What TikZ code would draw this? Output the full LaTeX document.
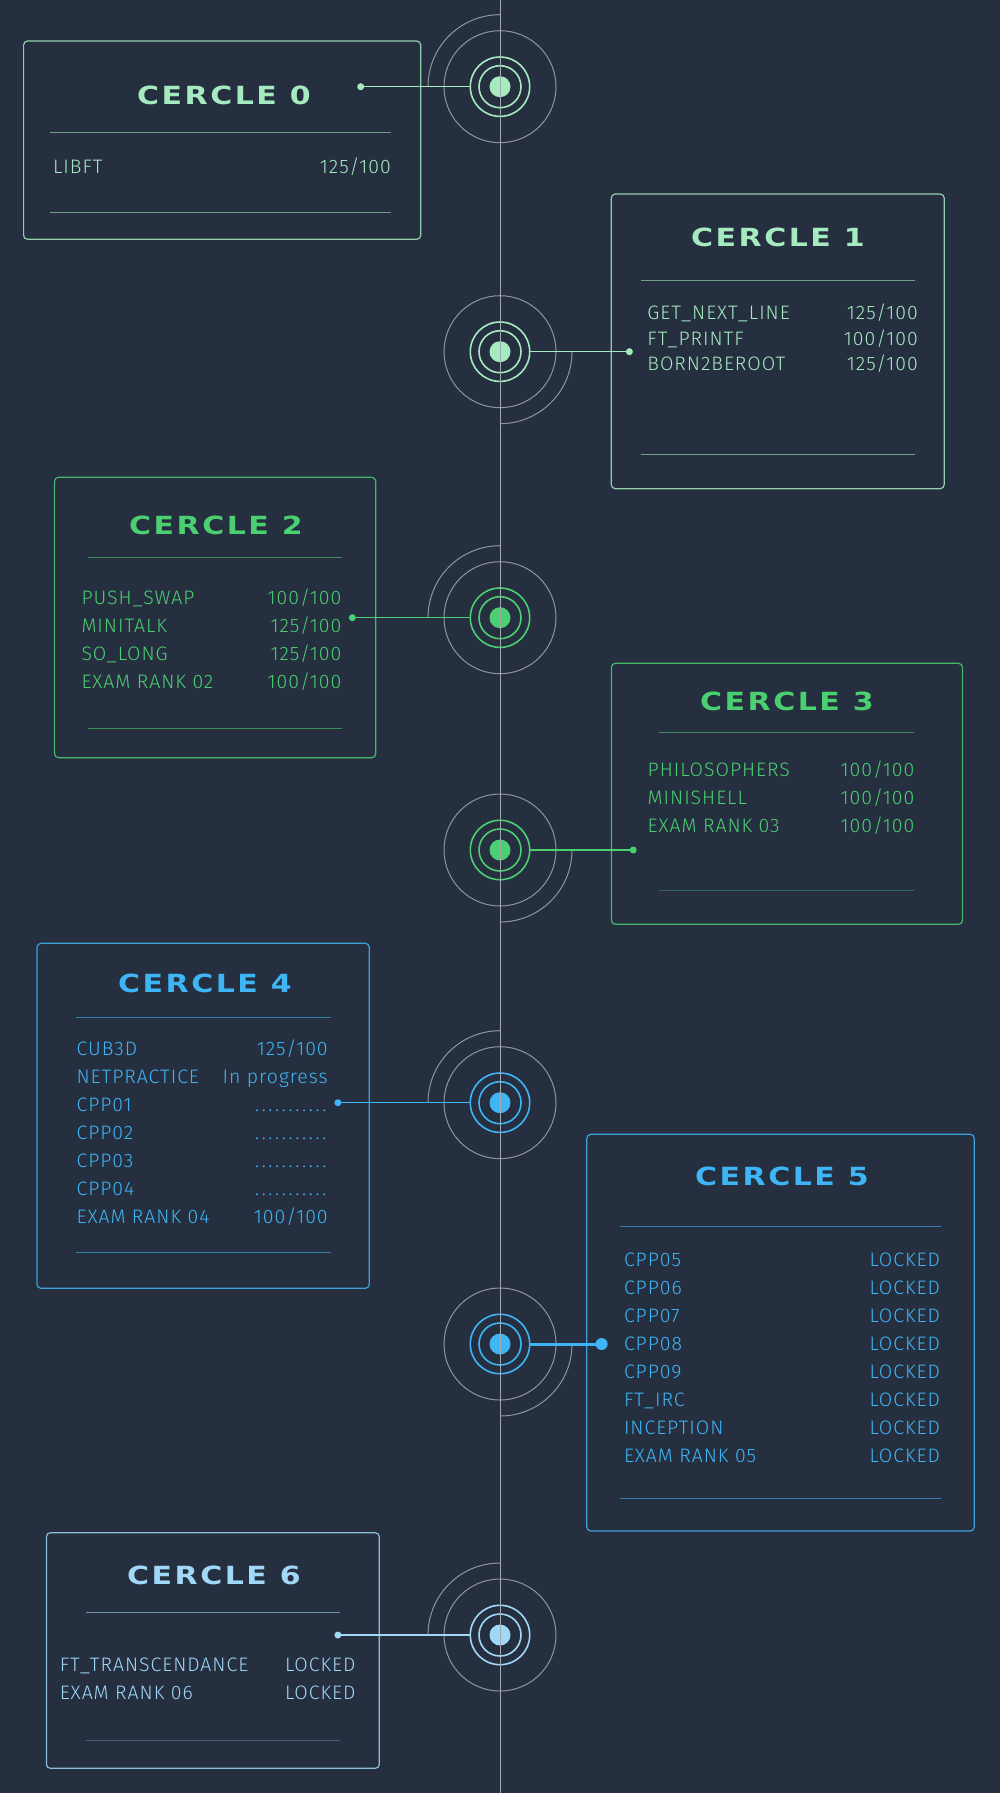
\documentclass[tikz,border=0pt]{standalone}
\usepackage{fontspec}
\setmainfont{Fira Sans Light}[LetterSpace=5]
\newfontfamily\titlefont{DejaVu Sans}[FakeStretch=1.2,LetterSpace=10]
\definecolor{bg}{HTML}{252F40}
\definecolor{gline}{HTML}{A3A7AE}
\definecolor{cmint}{HTML}{A6EBC0}
\definecolor{cgreen}{HTML}{4AD070}
\definecolor{cblue}{HTML}{3EB6F6}
\definecolor{clight}{HTML}{A0D8F8}
\newcommand{\dotrow}{\hbox to 74pt{\leaders\hbox to 6.727pt{\hss.\hss}\hfill}}
\tikzset{
  cardbox/.style={draw=#1, draw opacity=0.85, rounded corners=4pt, line width=1.2pt, inner sep=0pt, outer sep=0pt, anchor=north west, rectangle},
  ttl/.style={text=#1, font=\titlefont\bfseries\fontsize{25}{25}\selectfont, anchor=base, inner sep=0pt},
  rowl/.style={text=#1, font=\fontsize{19.5}{19.5}\selectfont, anchor=base west, inner sep=0pt},
  rowr/.style={text=#1, font=\fontsize{19.5}{19.5}\selectfont, anchor=base east, inner sep=0pt},
  sepline/.style={draw=#1, draw opacity=0.6, line width=1pt},
  grayc/.style={circle, draw=gline, draw opacity=0.85, line width=1pt, inner sep=0pt, outer sep=0pt, minimum size=112pt},
  grayarc/.style={draw=gline, draw opacity=0.85, line width=1pt},
  ring/.style={circle, draw=#1, line width=1.6pt, inner sep=0pt, outer sep=0pt},
  hubdot/.style={circle, fill=#1, inner sep=0pt, minimum size=21pt},
  enddot/.style={circle, fill=#1, inner sep=0pt, minimum size=7pt},
  conn/.style={draw=#1, line width=1.5pt},
  axis/.style={draw=gline, line width=1pt},
}
\newcommand{\hub}[3]{% name, y, colour
  \coordinate (#1) at (500,-#2);
  \node[grayc] (#1g) at (#1) {};
  \node[ring=#3, minimum size=59.4pt] (#1o) at (#1) {};
  \node[ring=#3, minimum size=42pt] (#1i) at (#1) {};
  \node[hubdot=#3] (#1d) at (#1) {};
}
\newcommand{\prow}[7]{% name, xl, xr, yc, colour, left, right
  \node[rowl=#5] (#1l) at (#2,-#4-6.5) {#6};
  \node[rowr=#5] (#1r) at (#3,-#4-6.5) {#7};
}
\begin{document}
\begin{tikzpicture}[x=1pt,y=1pt]
\useasboundingbox (0,0) rectangle (1000,-1793);
\fill[bg] (0,0) rectangle (1000,-1793);
\coordinate (axtop) at (500,0);
\coordinate (axbot) at (500,-1793);

% ---------- CERCLE 0 ----------
\node[cardbox=cmint, minimum width=397.1pt, minimum height=198.3pt] (b0) at (23.6,-41) {};
\node[ttl=cmint] (t0) at (224,-95-9) {CERCLE 0};
\draw[sepline=cmint] (50,-132.3) -- (391,-132.3);
\draw[sepline=cmint] (50,-212) -- (391,-212);
\prow{r0a}{53}{391}{166.7}{cmint}{LIBFT}{125/100}
\hub{h0}{86.7}{cmint}
\draw[grayarc] (h0) ++(180:72) arc[start angle=180, end angle=90, radius=72];
\node[enddot=cmint] (e0) at (360.7,-86.7) {};
\draw[conn=cmint] (e0.center) -- (h0o.west);

% ---------- CERCLE 1 ----------
\node[cardbox=cmint, minimum width=332.9pt, minimum height=294.7pt] (b1) at (611.3,-194) {};
\node[ttl=cmint] (t1) at (778,-237.3-9) {CERCLE 1};
\draw[sepline=cmint] (640.5,-280) -- (915,-280);
\draw[sepline=cmint] (640.5,-454.3) -- (915,-454.3);
\prow{r1a}{647.2}{918}{312.7}{cmint}{GET\_NEXT\_LINE}{125/100}
\prow{r1b}{647.2}{918}{338.7}{cmint}{FT\_PRINTF}{100/100}
\prow{r1c}{647.2}{918}{364.3}{cmint}{BORN2BEROOT}{125/100}
\hub{h1}{351.7}{cmint}
\draw[grayarc] (h1) ++(0:72) arc[start angle=0, end angle=-90, radius=72];
\node[enddot=cmint] (e1) at (629.4,-351.7) {};
\draw[conn=cmint] (e1.center) -- (h1o.east);

% ---------- CERCLE 2 ----------
\node[cardbox=cgreen, minimum width=321.2pt, minimum height=280.4pt] (b2) at (54.5,-477.3) {};
\node[ttl=cgreen] (t2) at (216,-525-9) {CERCLE 2};
\draw[sepline=cgreen] (88,-557.3) -- (342,-557.3);
\draw[sepline=cgreen] (88,-728) -- (342,-728);
\prow{r2a}{81.3}{341.6}{598.3}{cgreen}{PUSH\_SWAP}{100/100}
\prow{r2b}{81.3}{341.6}{626}{cgreen}{MINITALK}{125/100}
\prow{r2c}{81.3}{341.6}{654}{cgreen}{SO\_LONG}{125/100}
\prow{r2d}{81.3}{341.6}{682.3}{cgreen}{EXAM RANK 02}{100/100}
\hub{h2}{617.7}{cgreen}
\draw[grayarc] (h2) ++(180:72) arc[start angle=180, end angle=90, radius=72];
\node[enddot=cgreen] (e2) at (352.3,-617.7) {};
\draw[conn=cgreen] (e2.center) -- (h2o.west);

% ---------- CERCLE 3 ----------
\node[cardbox=cgreen, minimum width=351.1pt, minimum height=261pt] (b3) at (611.4,-663.3) {};
\node[ttl=cgreen] (t3) at (787,-701.7-9) {CERCLE 3};
\draw[sepline=cgreen] (659,-732) -- (914,-732);
\draw[sepline=cgreen, draw opacity=0.35] (659,-890.7) -- (914,-890.7);
\prow{r3a}{647.5}{914.6}{770}{cgreen}{PHILOSOPHERS}{100/100}
\prow{r3b}{647.5}{914.6}{798}{cgreen}{MINISHELL}{100/100}
\prow{r3c}{647.5}{914.6}{826}{cgreen}{EXAM RANK 03}{100/100}
\hub{h3}{850}{cgreen}
\draw[grayarc] (h3) ++(0:72) arc[start angle=0, end angle=-90, radius=72];
\node[enddot=cgreen] (e3) at (633.2,-850) {};
\draw[conn=cgreen] (e3.center) -- (h3o.east);

% ---------- CERCLE 4 ----------
\node[cardbox=cblue, minimum width=332.3pt, minimum height=345pt] (b4) at (37,-943.3) {};
\node[ttl=cblue] (t4) at (205,-983.3-9) {CERCLE 4};
\draw[sepline=cblue] (76,-1017.3) -- (330.7,-1017.3);
\draw[sepline=cblue] (76,-1252.3) -- (330.7,-1252.3);
\prow{r4a}{76.4}{327.9}{1049.3}{cblue}{CUB3D}{125/100}
\prow{r4b}{76.4}{327.9}{1077.3}{cblue}{NETPRACTICE}{In progress}
\prow{r4c}{76.4}{327.9}{1105.3}{cblue}{CPP01}{\dotrow}
\prow{r4d}{76.4}{327.9}{1133.3}{cblue}{CPP02}{\dotrow}
\prow{r4e}{76.4}{327.9}{1161.3}{cblue}{CPP03}{\dotrow}
\prow{r4f}{76.4}{327.9}{1189.3}{cblue}{CPP04}{\dotrow}
\prow{r4g}{76.4}{327.9}{1217.3}{cblue}{EXAM RANK 04}{100/100}
\hub{h4}{1102.7}{cblue}
\draw[grayarc] (h4) ++(180:72) arc[start angle=180, end angle=90, radius=72];
\node[enddot=cblue] (e4) at (337.9,-1102.7) {};
\draw[conn=cblue] (e4.center) -- (h4o.west);

% ---------- CERCLE 5 ----------
\node[cardbox=cblue, minimum width=387.4pt, minimum height=396.7pt] (b5) at (586.8,-1134.3) {};
\node[ttl=cblue] (t5) at (782,-1176.7-9) {CERCLE 5};
\draw[sepline=cblue] (620,-1226.3) -- (940.9,-1226.3);
\draw[sepline=cblue] (620,-1498.3) -- (940.9,-1498.3);
\prow{r5a}{623.8}{940.2}{1260}{cblue}{CPP05}{LOCKED}
\prow{r5b}{623.8}{940.2}{1288}{cblue}{CPP06}{LOCKED}
\prow{r5c}{623.8}{940.2}{1316}{cblue}{CPP07}{LOCKED}
\prow{r5d}{623.8}{940.2}{1344}{cblue}{CPP08}{LOCKED}
\prow{r5e}{623.8}{940.2}{1372}{cblue}{CPP09}{LOCKED}
\prow{r5f}{623.8}{940.2}{1400}{cblue}{FT\_IRC}{LOCKED}
\prow{r5g}{623.8}{940.2}{1428}{cblue}{INCEPTION}{LOCKED}
\prow{r5h}{623.8}{940.2}{1456}{cblue}{EXAM RANK 05}{LOCKED}
\hub{h5}{1344}{cblue}
\draw[grayarc] (h5) ++(0:72) arc[start angle=0, end angle=-90, radius=72];
\node[enddot=cblue, minimum size=12pt] (e5) at (601.6,-1344) {};
\draw[conn=cblue, line width=3pt] (e5.center) -- (h5o.east);

% ---------- CERCLE 6 ----------
\node[cardbox=clight, minimum width=332.9pt, minimum height=235.6pt] (b6) at (46.4,-1532.7) {};
\node[ttl=clight] (t6) at (214,-1575.7-9) {CERCLE 6};
\draw[sepline=clight] (86,-1612.3) -- (340,-1612.3);
\draw[sepline=clight, draw opacity=0.3] (86,-1740.7) -- (340,-1740.7);
\prow{r6a}{59.6}{355.7}{1665}{clight}{FT\_TRANSCENDANCE}{LOCKED}
\prow{r6b}{59.6}{355.7}{1693}{clight}{EXAM RANK 06}{LOCKED}
\hub{h6}{1635}{clight}
\draw[grayarc] (h6) ++(180:72) arc[start angle=180, end angle=90, radius=72];
\node[enddot=clight] (e6) at (337.9,-1635) {};
\draw[conn=clight] (e6.center) -- (h6o.west);

% ---------- axis ----------
\draw[axis] (axtop) -- (axbot);
\end{tikzpicture}
\end{document}
